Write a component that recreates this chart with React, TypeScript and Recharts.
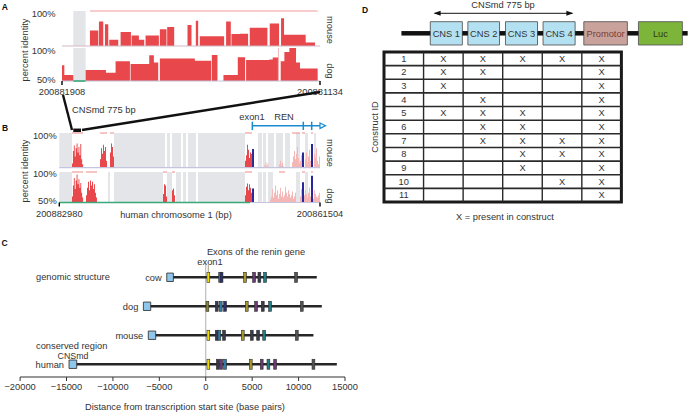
import React from 'react';
import { ComposedChart, Area, Scatter, XAxis, YAxis, ReferenceArea, ReferenceLine } from 'recharts';

const FONT = '"Liberation Sans", Arial, Helvetica, sans-serif';
const FS = 9.3;
const INK = '#333333';
const RED = '#e8474b';
const PINK = '#f5b6b6';
const GREY_BG = '#e4e5e8';
const NAVY = '#28289c';
const LAV = '#c4c4de';
const GREEN = '#3aa878';
const GENE_BLUE = '#1b8bd0';

type Seg = [number, number, number];
type Run = { start: number; step: number; vals: number[] };

// ---------------- Panel A (775 bp window) ----------------
const aTickLabels = ['200881908', '200881134'];
const aSpanBp = 775;
const aMouseSegs: Seg[] = [
  [84, 109, 72], [111, 124, 85], [129, 139, 81], [142, 169, 59], [176, 207, 70], [209, 231, 65],
  [231, 247, 59], [251, 291, 65], [294, 314, 74], [316, 337, 77], [377, 389, 80], [402, 409, 86],
  [414, 487, 64], [493, 507, 85], [509, 534, 67], [534, 559, 67.5], [564, 617, 76], [624, 652, 82],
  [658, 667, 89.5], [667, 732, 66], [732, 760, 55],
];
const aDogSegs: Seg[] = [
  [0, 7, 74], [7, 34, 59], [71, 132, 66.7], [132, 161, 62.6], [161, 204, 80], [206, 262, 75.8],
  [262, 276, 89], [276, 289, 78], [294, 399, 84], [399, 448, 80.8], [450, 467, 89.5], [485, 528, 59],
  [528, 550, 86], [553, 623, 81.8], [623, 633, 82.5], [633, 651, 85.5], [657, 668, 80], [668, 683, 94],
  [683, 703, 100], [703, 715, 78], [715, 768, 69],
];
const aGreyBands: [number, number][] = [[34, 71]];
const aMouseConserved: [number, number][] = [[84, 768]];
const aDogGreen: [number, number][] = [[34, 71]];
const aDogPinkMarks = [650];

// ---------------- Panel B (21476 bp window) ----------------
const bTickLabels = ['200882980', '200861504'];
const bSpanBp = 21476;
const bMouseRed: Run[] = [
  { start: 1046, step: 76, vals: [56, 74, 82, 66, 78, 85, 72, 80, 68, 84, 62, 55] },
  { start: 3353, step: 82, vals: [62, 78, 70, 83, 74, 80, 60] },
  { start: 4177, step: 82, vals: [72, 85, 80, 66] },
  { start: 15298, step: 82, vals: [60, 68, 83, 76, 64, 72, 70] },
];
const bMousePink: Run[] = [
  { start: 16900, step: 82, vals: [54, 58, 52, 56] },
  { start: 18100, step: 82, vals: [55, 60, 53, 57, 52] },
  { start: 19171, step: 82, vals: [58, 66, 74, 62, 70, 80, 64, 56, 60, 68] },
  { start: 20242, step: 82, vals: [62, 72, 58, 66, 76, 60] },
  { start: 20983, step: 82, vals: [70, 64, 78, 60, 55, 66] },
];
const bMouseBlue: Run[] = [
  { start: 15877, step: 82, vals: [77, 77] },
  { start: 19994, step: 82, vals: [72, 72] },
  { start: 20736, step: 82, vals: [84, 84] },
];
const bDogRed: Run[] = [
  { start: 1046, step: 76, vals: [60, 78, 90, 72, 86, 96, 80, 88, 74, 82, 66, 58] },
  { start: 2200, step: 82, vals: [62, 74, 84, 70, 86, 78, 84, 72, 80, 66, 58] },
  { start: 8543, step: 82, vals: [64, 80, 78, 60] },
  { start: 9284, step: 82, vals: [70, 73, 62] },
  { start: 15298, step: 82, vals: [62, 76, 81, 70, 80, 74, 66] },
];
const bDogPink: Run[] = [
  { start: 17366, step: 82, vals: [55, 60, 72, 58, 66, 78, 62, 70, 56, 64, 74, 60, 68, 58, 62, 76, 66, 60, 70, 64, 58, 62, 68, 56, 60, 66] },
  { start: 19830, step: 82, vals: [60, 72, 66, 58, 62, 70, 64, 58, 66, 74, 60, 68, 62, 56, 70, 64, 60, 58, 62, 66] },
];
const bDogBlue: Run[] = [
  { start: 15877, step: 82, vals: [73, 73] },
  { start: 19994, step: 82, vals: [83, 83] },
  { start: 20736, step: 82, vals: [94, 94] },
];
const bMouseGrey: [number, number][] = [
  [0, 1046], [4506, 8707], [8872, 9119], [9284, 10025], [10190, 10437], [10602, 11261], [11426, 15298],
  [16369, 16699], [16781, 17028], [17193, 17688], [17852, 18429], [18594, 19006], [19500, 19830],
  [20242, 20489], [20983, 21148],
];
const bDogGrey: [number, number][] = [
  [0, 1046], [4012, 4177], [4506, 8543], [8872, 9284], [9613, 10025], [10190, 10437], [10602, 11261],
  [11426, 15298], [16369, 16699], [16781, 17028], [17193, 17600], [19500, 19830], [20242, 20489],
];
const bMouseConserved: [number, number][] = [
  [1046, 1952], [3353, 3930], [4177, 4506], [15298, 15875], [19171, 19830], [19994, 20242], [20736, 20901],
];
const bDogConserved: [number, number][] = [
  [1046, 1952], [2200, 3106], [8543, 8872], [9284, 9531], [15298, 15875], [18100, 18600], [19994, 20242], [20736, 20901],
];
const bDogGreen: [number, number][] = [[0, 15710]];
const bGeneStart = 15900;
const bGeneExons = [15900, 20100, 20790];
const bCnsmd: [number, number] = [1150, 1790];

// ---------------- Panel C ----------------
const cTicks = [-20000, -15000, -10000, -5000, 0, 5000, 10000, 15000];
const cRowNames = ['cow', 'dog', 'mouse', 'human'];
const cRowY = [4, 3, 2, 1];
const cCnsStart = [-4200, -6720, -6190, -14730];
const cCnsEnd = [-3490, -5930, -5390, -13900];
const cGeneEnd = [11960, 12500, 11600, 14120];
const cExons = [
  [280, 1550, 1700, 4235, 5205, 5776, 6390, 9730],
  [180, 1185, 1616, 2080, 4418, 5420, 6142, 6930, 10345],
  [280, 1185, 1465, 1970, 3990, 4960, 5640, 6290, 9810],
  [280, 1300, 1660, 2080, 4850, 6030, 6750, 7470, 11600],
];
const cExonColors = [
  ['#f2de00', '#2f7fa8', '#2b2f6e', '#a89a2a', '#6d3a78', '#3a3a4a', '#1f7f86', '#555555'],
  ['#8a8430', '#3a3a4a', '#2f7fa8', '#2b2f6e', '#a89a2a', '#6d3a78', '#3a3a4a', '#1f7f86', '#555555'],
  ['#f2de00', '#3a3a4a', '#2f7fa8', '#3a3a4a', '#a89a2a', '#3a3a4a', '#3a3a4a', '#1f7f86', '#555555'],
  ['#f2de00', '#3a3a4a', '#6d3a78', '#2f7fa8', '#a89a2a', '#6d3a78', '#1f7f86', '#6d3a78', '#555555'],
];

// ---------------- Panel D ----------------
const dParts = ['CNS 1', 'CNS 2', 'CNS 3', 'CNS 4', 'Promotor', 'Luc'];
const dPartStart = [1.17, 2.12, 3.07, 4.02, 5.05, 6.43];
const dPartEnd = [1.98, 2.92, 3.88, 4.83, 6.15, 7.54];
const dBackboneStart = 0.44;
const dBackboneEnd = 7.675;
const dPartFill = ['#b4e1f2', '#b4e1f2', '#b4e1f2', '#b4e1f2', '#c9a39b', '#7db43a'];
const dPartText = ['#333333', '#333333', '#333333', '#333333', '#7a3a30', '#2d3a10'];
const dConstructIds = [1, 2, 3, 4, 5, 6, 7, 8, 9, 10, 11];
const dPresence = [
  [1, 1, 1, 1, 1],
  [1, 1, 0, 0, 1],
  [1, 0, 0, 0, 1],
  [0, 1, 0, 0, 1],
  [1, 1, 1, 0, 1],
  [0, 1, 1, 0, 1],
  [0, 1, 1, 1, 1],
  [0, 0, 1, 1, 1],
  [0, 0, 1, 0, 1],
  [0, 0, 0, 1, 1],
  [0, 0, 0, 0, 1],
];

// ---------------- helpers ----------------
const runsToSegs = (runs: Run[]): Seg[] =>
  runs.flatMap((r) => r.vals.map((v, i) => [r.start + i * r.step, r.start + (i + 1) * r.step, v] as Seg));
const toSteps = (segs: Seg[]) => {
  const pts: { x: number; v: number }[] = [];
  segs.forEach(([s, e, v], i) => {
    pts.push({ x: s, v });
    const next = segs[i + 1];
    if (!next || next[0] > e) pts.push({ x: e, v: 50 });
  });
  return pts;
};

const pctTick = (gap: number, dyTop: number, dyBot: number) => (props: any) => {
  const { x, y, payload } = props;
  const dy = payload.value === 100 ? dyTop : dyBot;
  return (
    <text x={x - gap} y={y + dy} textAnchor="end" dominantBaseline="central" fontSize={FS} fill={INK} fontFamily={FONT}>
      {`${payload.value}%`}
    </text>
  );
};

type TrackProps = {
  left: number; top: number; width: number; height: number;
  margin: { top: number; right: number; bottom: number; left: number };
  span: number; yw: number; gap: number; dyTop: number; dyBot: number;
  greys: [number, number][];
  series: { segs: Seg[]; color: string }[];
  conserved: [number, number][]; conservedColor: string;
  baseColor: string; green: [number, number][];
  vmarks?: number[];
  xLabels?: string[]; xAxisHeight?: number; tickMargin?: number;
  extra?: React.ReactNode[];
};

const Track = (p: TrackProps) => (
  <div style={{ position: 'absolute', left: p.left, top: p.top }}>
    <ComposedChart width={p.width} height={p.height} margin={p.margin}>
      <XAxis
        type="number" dataKey="x" domain={[0, p.span]} allowDataOverflow
        hide={!p.xLabels} ticks={[0, p.span]} interval={0}
        tickFormatter={(v: number) => (p.xLabels ? (v === 0 ? p.xLabels[0] : p.xLabels[1]) : '')}
        height={p.xAxisHeight || 0} axisLine={false}
        tickLine={{ stroke: '#000', strokeWidth: 1.4 }} tickSize={4} tickMargin={p.tickMargin || 3}
        tick={{ fontSize: FS, fill: INK, fontFamily: FONT }}
      />
      <YAxis
        type="number" domain={[50, 100]} allowDataOverflow ticks={[50, 100]} width={p.yw}
        axisLine={false} tickLine={false} tickSize={0} tickMargin={0}
        tick={pctTick(p.gap, p.dyTop, p.dyBot)}
      />
      {p.greys.map(([a, b], i) => (
        <ReferenceArea key={'g' + i} x1={a} x2={b} y1={50} y2={100} fill={GREY_BG} fillOpacity={1} stroke="none" />
      ))}
      {p.series.map((s, i) => (
        <Area
          key={'s' + i} data={toSteps(s.segs)} dataKey="v" type="stepAfter" baseValue={50}
          stroke="none" fill={s.color} fillOpacity={1} isAnimationActive={false} dot={false} activeDot={false}
        />
      ))}
      {(p.vmarks || []).map((x, i) => (
        <ReferenceLine key={'vm' + i} segment={[{ x, y: 50 }, { x, y: 100 }]} stroke="#f4b4b4" strokeWidth={1} />
      ))}
      <ReferenceLine y={50} stroke={p.baseColor} strokeWidth={1.2} />
      {p.green.map(([a, b], i) => (
        <ReferenceLine key={'gr' + i} segment={[{ x: a, y: 50 }, { x: b, y: 50 }]} stroke={GREEN} strokeWidth={1.6} />
      ))}
      {p.conserved.map(([a, b], i) => (
        <ReferenceLine key={'c' + i} segment={[{ x: a, y: 100 }, { x: b, y: 100 }]} stroke={p.conservedColor} strokeWidth={1} />
      ))}
      {p.extra || null}
    </ComposedChart>
  </div>
);

const ExonShape = (props: any) => {
  const { cx, cy, payload } = props;
  return <rect x={cx - 1.4} y={cy - 5} width={2.8} height={10} fill={payload.c} stroke="#2a2a2a" strokeWidth={0.6} />;
};
const TextShape = (props: any) => {
  const { cx, cy, payload } = props;
  return (
    <text x={cx} y={cy} textAnchor="middle" dominantBaseline="central" fontSize={FS} fill={INK} fontFamily={FONT}>
      {payload.label}
    </text>
  );
};

const fmtSigned = (v: number) => (v < 0 ? '\u2212' + Math.abs(v) : String(v));

const txt = (x: number, y: number, s: string, anchor: 'start' | 'middle' | 'end' = 'start', extra: any = {}) => (
  <text x={x} y={y} textAnchor={anchor} dominantBaseline="central" fontSize={FS} fill={INK} fontFamily={FONT} {...extra}>
    {s}
  </text>
);

export default function App() {
  const bMouseSeries = [
    { segs: runsToSegs(bMousePink), color: PINK },
    { segs: runsToSegs(bMouseRed), color: RED },
    { segs: runsToSegs(bMouseBlue), color: NAVY },
  ];
  const bDogSeries = [
    { segs: runsToSegs(bDogPink), color: PINK },
    { segs: runsToSegs(bDogRed), color: RED },
    { segs: runsToSegs(bDogBlue), color: NAVY },
  ];

  const geneExtras = [
    <ReferenceLine key="gl" ifOverflow="visible" segment={[{ x: bGeneStart, y: 110.5 }, { x: bSpanBp, y: 110.5 }]}
      stroke={GENE_BLUE} strokeWidth={1.5} markerEnd="url(#geneArrow)" />,
    ...bGeneExons.map((x, i) => (
      <ReferenceLine key={'ge' + i} ifOverflow="visible" segment={[{ x, y: 104.3 }, { x, y: 116.3 }]} stroke={GENE_BLUE} strokeWidth={1.5} />
    )),
    <ReferenceLine key="cns" ifOverflow="visible" segment={[{ x: bCnsmd[0], y: 103.9 }, { x: bCnsmd[1], y: 103.9 }]} stroke="#111" strokeWidth={3.5} />,
  ];

  // backbone pieces between construct parts
  const backStarts = [dBackboneStart, ...dPartEnd];
  const backEnds = [...dPartStart, dBackboneEnd];

  const tablePoints: { x: number; y: number; label: string }[] = [];
  dPresence.forEach((row, r) =>
    row.forEach((p, c) => {
      if (p) tablePoints.push({ x: c + 1.5, y: r + 0.5, label: 'X' });
    })
  );
  const idPoints = dConstructIds.map((id, r) => ({ x: 0.5, y: r + 0.5, label: String(id) }));

  return (
    <div style={{ position: 'absolute', left: 0, top: 0, width: 688, height: 413, background: '#fff', fontFamily: FONT, overflow: 'hidden' }}>
      <style>{'.recharts-surface{overflow:visible}'}</style>

      {/* Panel A */}
      <Track left={0} top={0} width={340} height={50} margin={{ top: 11, right: 20, bottom: 4, left: 30 }}
        span={aSpanBp} yw={32} gap={6.5} dyTop={3} dyBot={-4}
        greys={aGreyBands} series={[{ segs: aMouseSegs, color: RED }]}
        conserved={aMouseConserved} conservedColor="#f29a9a" baseColor="#d2b8c6" green={[]} />
      <Track left={0} top={37} width={340} height={60} margin={{ top: 11, right: 20, bottom: 0, left: 30 }}
        span={aSpanBp} yw={32} gap={6.5} dyTop={3} dyBot={-1.5}
        greys={aGreyBands} series={[{ segs: aDogSegs, color: RED }]}
        conserved={[]} conservedColor="#f29a9a" baseColor={LAV} green={aDogGreen} vmarks={aDogPinkMarks}
        xLabels={aTickLabels} xAxisHeight={16} tickMargin={3} />

      {/* Panel B */}
      <Track left={0} top={120} width={340} height={50} margin={{ top: 13, right: 20, bottom: 2.3, left: 27.3 }}
        span={bSpanBp} yw={32} gap={2.6} dyTop={2.7} dyBot={-4.4}
        greys={bMouseGrey} series={bMouseSeries}
        conserved={bMouseConserved} conservedColor="#f08a8a" baseColor={LAV} green={[]} extra={geneExtras} />
      <Track left={0} top={160} width={340} height={60} margin={{ top: 12, right: 20, bottom: 0, left: 27.3 }}
        span={bSpanBp} yw={32} gap={2.6} dyTop={2.3} dyBot={-1.5}
        greys={bDogGrey} series={bDogSeries}
        conserved={bDogConserved} conservedColor="#f08a8a" baseColor={LAV} green={bDogGreen}
        xLabels={bTickLabels} xAxisHeight={17.5} tickMargin={4} />

      {/* Panel C */}
      <div style={{ position: 'absolute', left: 0, top: 250 }}>
        <ComposedChart width={360} height={163} margin={{ top: 12.8, right: 15, bottom: 0, left: 20.1 }}>
          <XAxis type="number" dataKey="x" domain={[-20000, 15000]} allowDataOverflow ticks={cTicks} interval={0}
            height={36} tickFormatter={fmtSigned} axisLine={{ stroke: '#333', strokeWidth: 1.2 }}
            tickLine={{ stroke: '#333', strokeWidth: 1 }} tickSize={4} tickMargin={2}
            tick={{ fontSize: FS, fill: INK, fontFamily: FONT }} />
          <YAxis type="number" dataKey="y" domain={[0.56, 4.5]} allowDataOverflow hide />
          <ReferenceLine x={0} stroke="#9a9a9a" strokeWidth={0.8} />
          {cRowNames.map((n, i) => (
            <ReferenceLine key={'rl' + i} segment={[{ x: cCnsEnd[i], y: cRowY[i] }, { x: cGeneEnd[i], y: cRowY[i] }]}
              stroke="#262626" strokeWidth={2.6} />
          ))}
          {cRowNames.map((n, i) => (
            <ReferenceArea key={'rb' + i} x1={cCnsStart[i]} x2={cCnsEnd[i]} y1={cRowY[i] - 0.145} y2={cRowY[i] + 0.145}
              fill="#8fc6ec" fillOpacity={1} stroke="#3a3a3a" strokeWidth={0.9}
              label={{ value: n, position: 'left', offset: 5, fontSize: FS, fill: INK, fontFamily: FONT }} />
          ))}
          {cRowNames.map((n, i) => (
            <Scatter key={'ex' + i} data={cExons[i].map((x, k) => ({ x, y: cRowY[i], c: cExonColors[i][k] }))}
              shape={ExonShape} isAnimationActive={false} />
          ))}
        </ComposedChart>
      </div>

      {/* Panel D schematic */}
      <div style={{ position: 'absolute', left: 384.3, top: 0 }}>
        <ComposedChart width={303.7} height={52} margin={{ top: 0, right: 0, bottom: 0, left: 0 }}>
          <XAxis type="number" dataKey="x" domain={[0, 7.675]} allowDataOverflow hide />
          <YAxis type="number" dataKey="y" domain={[0, 52]} allowDataOverflow reversed hide />
          {backStarts.map((s, i) => (
            <ReferenceLine key={'bb' + i} segment={[{ x: s, y: 33.3 }, { x: backEnds[i], y: 33.3 }]} stroke="#111" strokeWidth={4.5} />
          ))}
          <ReferenceLine segment={[{ x: 1.28, y: 13.3 }, { x: 4.76, y: 13.3 }]} stroke="#111" strokeWidth={1}
            markerStart="url(#dArrow)" markerEnd="url(#dArrow)" />
          {dParts.map((n, i) => (
            <ReferenceArea key={'dp' + i} x1={dPartStart[i]} x2={dPartEnd[i]} y1={21.7} y2={45}
              fill={dPartFill[i]} fillOpacity={1} stroke="#5a5a5a" strokeWidth={0.9}
              label={{ value: n, position: 'center', fontSize: FS, fill: dPartText[i], fontFamily: FONT }} />
          ))}
        </ComposedChart>
      </div>

      {/* Panel D table */}
      <div style={{ position: 'absolute', left: 384.3, top: 52 }}>
        <ComposedChart width={237.4} height={150} margin={{ top: 0, right: 0, bottom: 0, left: 0 }}>
          <XAxis type="number" dataKey="x" domain={[0, 6]} allowDataOverflow hide />
          <YAxis type="number" dataKey="y" domain={[0, 11]} allowDataOverflow reversed hide />
          {[1, 2, 3, 4, 5].map((c) => (
            <ReferenceLine key={'vc' + c} x={c} stroke="#2a2a2a" strokeWidth={1.4} />
          ))}
          {dConstructIds.slice(1).map((_, r) => (
            <ReferenceLine key={'hr' + r} y={r + 1} stroke="#2a2a2a" strokeWidth={1.6} />
          ))}
          <ReferenceArea x1={0} x2={6} y1={0} y2={11} fill="none" stroke="#1a1a1a" strokeWidth={3} />
          <Scatter data={idPoints} shape={TextShape} isAnimationActive={false} />
          <Scatter data={tablePoints} shape={TextShape} isAnimationActive={false} />
        </ComposedChart>
      </div>

      {/* Annotations */}
      <svg width={688} height={413} style={{ position: 'absolute', left: 0, top: 0, pointerEvents: 'none' }}>
        <defs>
          <marker id="geneArrow" markerWidth="8" markerHeight="8" refX="1" refY="4" orient="auto" markerUnits="userSpaceOnUse">
            <path d="M1,1.3 L6.5,4 L1,6.7 Z" fill="#fff" stroke={GENE_BLUE} strokeWidth={1.2} />
          </marker>
          <marker id="dArrow" markerWidth="8" markerHeight="6" refX="6" refY="3" orient="auto-start-reverse" markerUnits="userSpaceOnUse">
            <path d="M0,0.5 L7,3 L0,5.5 Z" fill="#111" />
          </marker>
        </defs>
        {txt(4.7, 7, 'A', 'middle', { fontWeight: 'bold', fontSize: 8.5, fill: '#111' })}
        {txt(5, 128, 'B', 'middle', { fontWeight: 'bold', fontSize: 8.5, fill: '#111' })}
        {txt(4.5, 242.5, 'C', 'middle', { fontWeight: 'bold', fontSize: 8.5, fill: '#111' })}
        {txt(365, 10.3, 'D', 'middle', { fontWeight: 'bold', fontSize: 8.5, fill: '#111' })}
        {txt(0, 0, 'percent identity', 'middle', { transform: 'translate(25,50) rotate(-90)' })}
        {txt(0, 0, 'percent identity', 'middle', { transform: 'translate(25,171) rotate(-90)' })}
        {txt(0, 0, 'mouse', 'middle', { transform: 'translate(330,30) rotate(90)' })}
        {txt(0, 0, 'dog', 'middle', { transform: 'translate(330,71) rotate(90)' })}
        {txt(0, 0, 'mouse', 'middle', { transform: 'translate(330,153) rotate(90)' })}
        {txt(0, 0, 'dog', 'middle', { transform: 'translate(330,196) rotate(90)' })}
        <line x1={63} y1={95} x2={72} y2={130} stroke="#111" strokeWidth={2.4} />
        <line x1={320} y1={92} x2={82} y2={130} stroke="#111" strokeWidth={2.4} />
        {txt(72, 110, 'CNSmd 775 bp')}
        {txt(252, 117, 'exon1', 'middle')}
        {txt(284, 117, 'REN', 'middle')}
        {txt(176, 215, 'human chromosome 1 (bp)', 'middle')}
        {txt(256, 251.7, 'Exons of the renin gene', 'middle')}
        {txt(210, 261.5, 'exon1', 'middle')}
        <line x1={208.3} y1={265} x2={208.3} y2={273} stroke="#8a8a6a" strokeWidth={0.8} />
        {txt(36, 277, 'genomic structure')}
        {txt(36, 346, 'conserved region')}
        {txt(73, 356, 'CNSmd', 'middle', { fontSize: 8.8 })}
        {txt(185, 406.5, 'Distance from transcription start site (base pairs)', 'middle')}
        {txt(503, 4.5, 'CNSmd 775 bp', 'middle')}
        {txt(0, 0, 'Construct ID', 'middle', { transform: 'translate(375,127) rotate(-90)' })}
        {txt(505, 217.3, 'X = present in construct', 'middle')}
      </svg>
    </div>
  );
}
